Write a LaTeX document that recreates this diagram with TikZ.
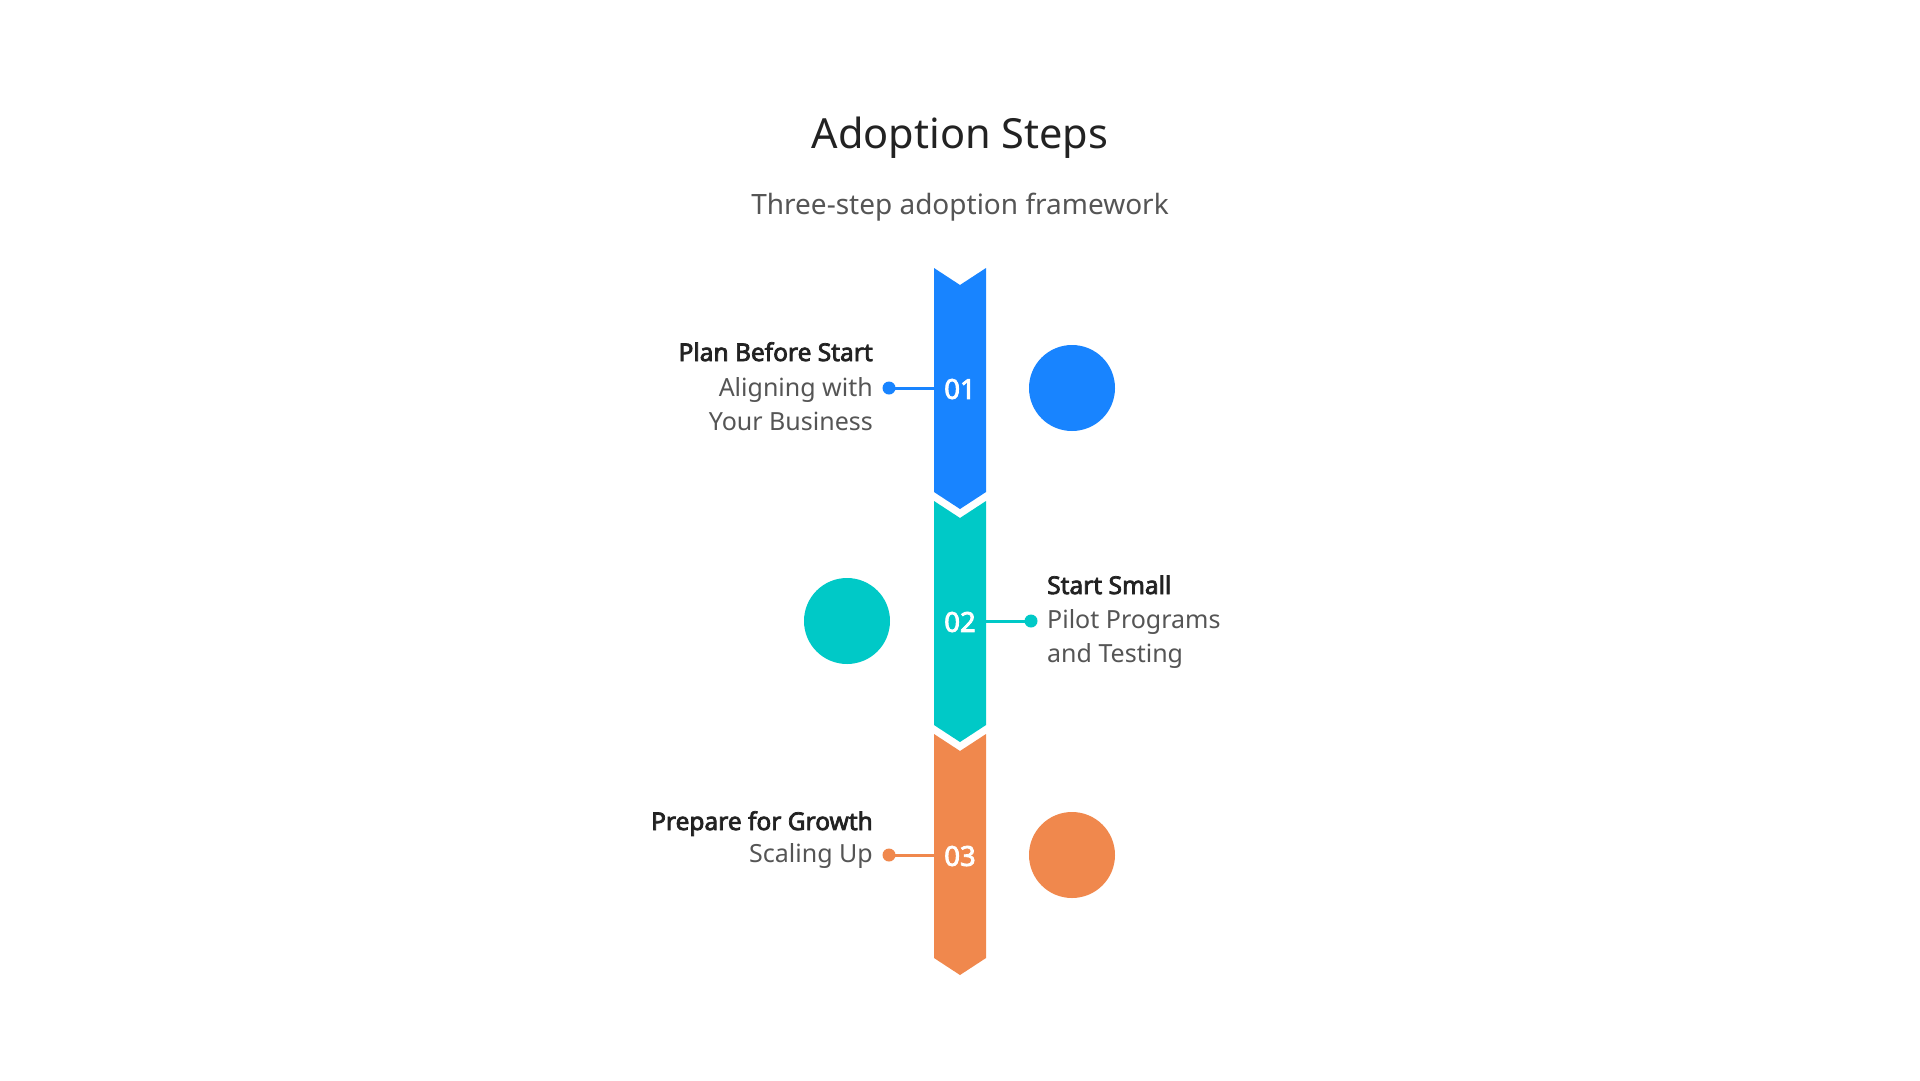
\documentclass[tikz,border=0pt]{standalone}
\usepackage{fontspec}
\setmainfont{Noto Sans}[AutoFakeBold=3]
\definecolor{cblue}{HTML}{1884FF}
\definecolor{cteal}{HTML}{00C9C7}
\definecolor{corange}{HTML}{F0884D}
\definecolor{cdark}{HTML}{222222}
\definecolor{cgray}{HTML}{555555}
\tikzset{
  seg/.style={fill=#1, draw=none},
  bigdot/.style={circle, fill=#1, draw=none, minimum size=86pt, inner sep=0pt},
  smalldot/.style={circle, fill=#1, draw=none, minimum size=13pt, inner sep=0pt},
  link/.style={draw=#1, line width=3pt},
  num/.style={text=white, font=\fontsize{27.5}{30}\selectfont\bfseries, inner sep=0pt},
  head/.style={text=cdark, font=\fontsize{24.5}{28}\selectfont\bfseries, inner sep=0pt},
  body/.style={text=cgray, font=\fontsize{25}{28}\selectfont, inner sep=0pt},
}
\begin{document}
\begin{tikzpicture}[x=1pt,y=-1pt]
\useasboundingbox (0,0) rectangle (1920,1080);
\fill[white] (0,0) rectangle (1920,1080);
% title
\node[text=cdark, font=\fontsize{41.5}{50}\selectfont, anchor=base, inner sep=0pt] (title) at (960,148) {Adoption Steps};
\node[text=cgray, font=\fontsize{28}{34}\selectfont, anchor=base, inner sep=0pt] (subtitle) at (960,214) {Three-step adoption framework};
% segments
\foreach \t/\c in {268/cblue, 501/cteal, 734/corange}{
  \fill[seg=\c] (934,\t) -- (960,\t+17) -- (986,\t) -- (986,\t+224) -- (960,\t+241) -- (934,\t+224) -- cycle;
}
% edge coordinates
\coordinate (e1) at (934,388);
\coordinate (e2) at (986,621);
\coordinate (e3) at (934,855);
% numbers
\node[num] (n1) at (960,389) {01};
\node[num] (n2) at (960,622) {02};
\node[num] (n3) at (960,856) {03};
% big circles
\node[bigdot=cblue] (c1) at (1072,388) {};
\node[bigdot=cteal] (c2) at (847,621) {};
\node[bigdot=corange] (c3) at (1072,855) {};
% small dots and links
\node[smalldot=cblue] (d1) at (889,388) {};
\node[smalldot=cteal] (d2) at (1031,621) {};
\node[smalldot=corange] (d3) at (889,855) {};
\draw[link=cblue] (d1.center) -- (e1);
\draw[link=cteal] (e2) -- (d2.center);
\draw[link=corange] (d3.center) -- (e3);
% texts step 1
\node[head, anchor=base east] (h1) at (873,361) {Plan Before Start};
\node[body, anchor=base east] (b1a) at (873,396) {Aligning with};
\node[body, anchor=base east] (b1b) at (873,430) {Your Business};
% step 2
\node[head, anchor=base west] (h2) at (1047,594) {Start Small};
\node[body, anchor=base west] (b2a) at (1047,628) {Pilot Programs};
\node[body, anchor=base west] (b2b) at (1047,662) {and Testing};
% step 3
\node[head, anchor=base east] (h3) at (873,830) {Prepare for Growth};
\node[body, anchor=base east] (b3a) at (873,862) {Scaling Up};
\end{tikzpicture}
\end{document}
